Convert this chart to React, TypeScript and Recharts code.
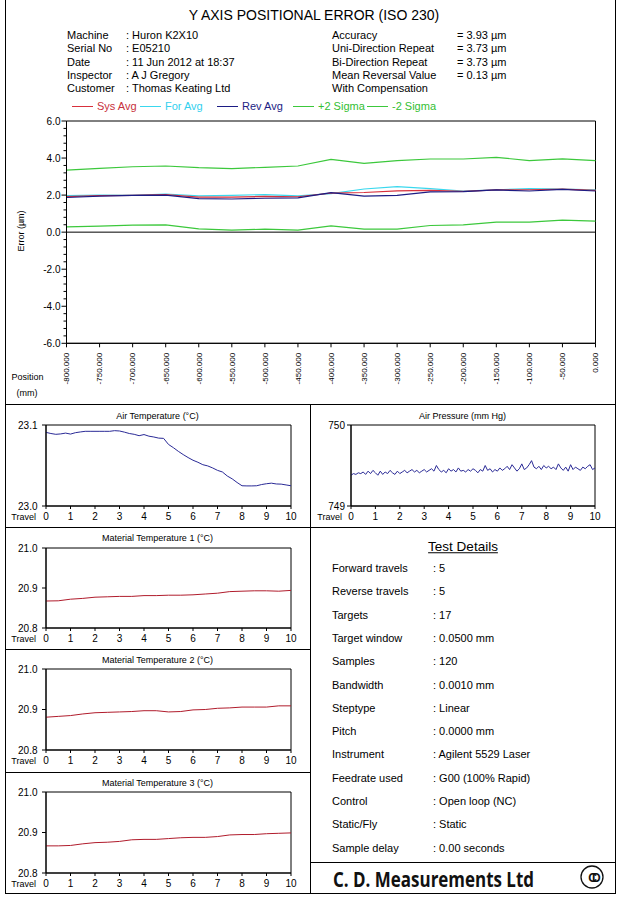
import React from "react";
import { LineChart, Line, XAxis, YAxis, ReferenceLine, ReferenceArea } from "recharts";

const FONT = "'Liberation Sans', Arial, Helvetica, sans-serif";

// ---- header ----
const REPORT_TITLE = "Y AXIS POSITIONAL ERROR (ISO 230)";
const INFO_LEFT_LABELS = ["Machine", "Serial No", "Date", "Inspector", "Customer"];
const INFO_LEFT_VALUES = [": Huron K2X10", ": E05210", ": 11 Jun 2012 at 18:37", ": A J Gregory", ": Thomas Keating Ltd"];
const INFO_RIGHT_LABELS = ["Accuracy", "Uni-Direction Repeat", "Bi-Direction Repeat", "Mean Reversal Value", "With Compensation"];
const INFO_RIGHT_VALUES = ["= 3.93 \u00b5m", "= 3.73 \u00b5m", "= 3.73 \u00b5m", "= 0.13 \u00b5m", ""];

// ---- positional error (µm) per target (mm) ----
const POSITIONS = [-800, -750, -700, -650, -600, -550, -500, -450, -400, -350, -300, -250, -200, -150, -100, -50, 0];
const SYS_AVG = [1.92, 1.97, 1.99, 2.03, 1.89, 1.89, 1.93, 1.91, 2.11, 2.14, 2.23, 2.26, 2.2, 2.28, 2.29, 2.32, 2.25];
const FOR_AVG = [1.97, 2.0, 1.99, 2.06, 1.96, 1.99, 2.03, 1.96, 2.08, 2.33, 2.46, 2.35, 2.21, 2.28, 2.35, 2.33, 2.28];
const REV_AVG = [1.87, 1.94, 1.99, 2.0, 1.81, 1.79, 1.83, 1.85, 2.13, 1.94, 1.99, 2.17, 2.19, 2.28, 2.22, 2.31, 2.22];
const PLUS_2_SIGMA = [3.35, 3.44, 3.53, 3.57, 3.48, 3.43, 3.5, 3.57, 3.93, 3.71, 3.86, 3.95, 3.95, 4.04, 3.86, 3.96, 3.86];
const MINUS_2_SIGMA = [0.29, 0.32, 0.38, 0.39, 0.18, 0.11, 0.16, 0.11, 0.34, 0.16, 0.16, 0.36, 0.39, 0.54, 0.54, 0.65, 0.59];
const MAJOR_ERROR_TICKS = [-6, -4, -2, 0, 2, 4, 6];

const SERIES = [
  { key: "up", name: "+2 Sigma", color: "#3cc83c", text: "#33c033" },
  { key: "lo", name: "-2 Sigma", color: "#3cc83c", text: "#33c033" },
  { key: "fwd", name: "For Avg", color: "#3ad8ee", text: "#33d0ee" },
  { key: "sys", name: "Sys Avg", color: "#d8303c", text: "#c8303c" },
  { key: "rev", name: "Rev Avg", color: "#1c1c84", text: "#1c1c84" },
];
const LEGEND_ORDER = ["sys", "fwd", "rev", "up", "lo"];
const LEGEND_LEFT = [72, 140, 217, 293, 367];

// ---- environment records, travel 0..10 ----
const TRAVEL_TICKS = [0, 1, 2, 3, 4, 5, 6, 7, 8, 9, 10];
const AIR_TEMP = [
  23.0909, 23.0895, 23.0885, 23.089, 23.09, 23.0888, 23.0905, 23.0914, 23.0922, 23.0922,
  23.0922, 23.0922, 23.0922, 23.0922, 23.093, 23.0926, 23.0912, 23.0895, 23.0885, 23.0868,
  23.0882, 23.0862, 23.0852, 23.0838, 23.0835, 23.076, 23.072, 23.0675, 23.0635, 23.0598,
  23.0565, 23.054, 23.051, 23.0495, 23.047, 23.044, 23.042, 23.037, 23.0335, 23.029,
  23.025, 23.0248, 23.0248, 23.025, 23.0265, 23.0275, 23.0282, 23.0272, 23.027, 23.026,
  23.025,
];
const AIR_PRESSURE = [
  749.38, 749.4, 749.39, 749.41, 749.4, 749.42, 749.39, 749.43, 749.4, 749.44,
  749.41, 749.38, 749.43, 749.39, 749.42, 749.4, 749.44, 749.41, 749.39, 749.43,
  749.4, 749.42, 749.44, 749.41, 749.43, 749.45, 749.42, 749.44, 749.41, 749.43,
  749.45, 749.42, 749.44, 749.46, 749.43, 749.5, 749.45, 749.42, 749.44, 749.41,
  749.46, 749.43, 749.45, 749.42, 749.47, 749.43, 749.44, 749.42, 749.45, 749.43,
  749.46, 749.44, 749.41, 749.45, 749.43, 749.5, 749.44, 749.46, 749.42, 749.45,
  749.43, 749.47, 749.44, 749.46, 749.49, 749.45, 749.51, 749.47, 749.43, 749.46,
  749.52, 749.45, 749.47, 749.51, 749.56, 749.48, 749.46, 749.49, 749.45, 749.5,
  749.47, 749.49, 749.46, 749.48, 749.45, 749.52, 749.47, 749.44, 749.48, 749.43,
  749.51, 749.45, 749.48, 749.46, 749.44, 749.48, 749.46, 749.49, 749.51, 749.45,
  749.47,
];
const MATERIAL_TEMP_1 = [20.8675, 20.868, 20.872, 20.874, 20.877, 20.878, 20.879, 20.879, 20.881, 20.881, 20.882, 20.882, 20.883, 20.885, 20.887, 20.891, 20.892, 20.893, 20.893, 20.892, 20.894];
const MATERIAL_TEMP_2 = [20.881, 20.883, 20.885, 20.889, 20.892, 20.893, 20.894, 20.895, 20.897, 20.897, 20.894, 20.895, 20.899, 20.9, 20.903, 20.904, 20.906, 20.906, 20.906, 20.909, 20.909];
const MATERIAL_TEMP_3 = [20.867, 20.867, 20.868, 20.872, 20.875, 20.876, 20.878, 20.882, 20.883, 20.883, 20.885, 20.887, 20.888, 20.888, 20.89, 20.894, 20.895, 20.895, 20.897, 20.898, 20.899];

// ---- test details ----
const DETAIL_LABELS = ["Forward travels", "Reverse travels", "Targets", "Target window", "Samples", "Bandwidth", "Steptype", "Pitch", "Instrument", "Feedrate used", "Control", "Static/Fly", "Sample delay"];
const DETAIL_VALUES = [": 5", ": 5", ": 17", ": 0.0500 mm", ": 120", ": 0.0010 mm", ": Linear", ": 0.0000 mm", ": Agilent 5529 Laser", ": G00 (100% Rapid)", ": Open loop (NC)", ": Static", ": 0.00 seconds"];

const errorRows = POSITIONS.map((pos, i) => ({
  pos,
  sys: SYS_AVG[i],
  fwd: FOR_AVG[i],
  rev: REV_AVG[i],
  up: PLUS_2_SIGMA[i],
  lo: MINUS_2_SIGMA[i],
}));

// minor ticks every 0.4 µm, labels only on the majors
const ERROR_TICKS = Array.from({ length: 31 }, (_, i) => Math.round((-6 + i * 0.4) * 10) / 10);

const toRows = (values: number[], step: number) => values.map((v, i) => ({ t: Math.round(i * step * 100) / 100, v }));

function Txt({ x, y, size = 11, anchor = "start", color = "#000", children, style }: any) {
  const tx = anchor === "middle" ? "-50%" : anchor === "end" ? "-100%" : "0";
  return (
    <div
      style={{
        position: "absolute",
        left: x,
        top: y,
        transform: `translate(${tx}, -50%)`,
        fontSize: size,
        lineHeight: 1,
        whiteSpace: "nowrap",
        color,
        fontFamily: FONT,
        ...style,
      }}
    >
      {children}
    </div>
  );
}

function HLine({ x, y, w }: any) {
  return <div style={{ position: "absolute", left: x, top: y, width: w, height: 1, background: "#000" }} />;
}
function VLine({ x, y, h }: any) {
  return <div style={{ position: "absolute", left: x, top: y, width: 1, height: h, background: "#000" }} />;
}

const ErrorTick = (props: any) => {
  const { x, y, payload } = props;
  const v = payload.value;
  const major = MAJOR_ERROR_TICKS.some((m) => Math.abs(m - v) < 1e-6);
  return (
    <g>
      <line x1={x - (major ? 5 : 3)} x2={x} y1={y} y2={y} stroke="#000" />
      {major && (
        <text x={x - 6} y={y} dy="0.35em" textAnchor="end" fontSize={10} fontFamily={FONT} fill="#000">
          {v.toFixed(1)}
        </text>
      )}
    </g>
  );
};

const PositionTick = (props: any) => {
  const { x, y, payload } = props;
  return (
    <g>
      <line x1={x} x2={x} y1={y} y2={y + 4} stroke="#000" />
      <text
        transform={`translate(${x}, ${y + 9.5}) rotate(-90)`}
        dy="0.35em"
        textAnchor="end"
        fontSize={8}
        fontFamily={FONT}
        fill="#000"
      >
        {payload.value.toFixed(3)}
      </text>
    </g>
  );
};

const TravelTick = (props: any) => {
  const { x, y, payload } = props;
  return (
    <g>
      <line x1={x} x2={x} y1={y} y2={y + 3} stroke="#000" />
      <text x={x} y={y + 10.5} dy="0.35em" textAnchor="middle" fontSize={10} fontFamily={FONT} fill="#000">
        {payload.value}
      </text>
    </g>
  );
};

const ValueTick = (props: any) => {
  const { x, y, payload, digits, gap } = props;
  return (
    <g>
      <line x1={x - 4} x2={x} y1={y} y2={y} stroke="#000" />
      <text x={x - gap} y={y} dy="0.35em" textAnchor="end" fontSize={10} fontFamily={FONT} fill="#000">
        {payload.value.toFixed(digits)}
      </text>
    </g>
  );
};

function ErrorChart() {
  return (
    <div style={{ position: "absolute", left: 0, top: 111 }}>
      <LineChart width={640} height={300} data={errorRows} margin={{ top: 10, right: 44.5, bottom: 0, left: 0 }}>
        <XAxis
          dataKey="pos"
          type="number"
          domain={[-800, 0]}
          ticks={POSITIONS}
          interval={0}
          tick={(p: any) => <PositionTick {...p} />}
          tickSize={0}
          tickMargin={0}
          tickLine={false}
          height={67.7}
          axisLine={{ stroke: "#000" }}
        />
        <YAxis
          type="number"
          domain={[-6, 6]}
          ticks={ERROR_TICKS}
          interval={0}
          tick={(p: any) => <ErrorTick {...p} />}
          tickSize={0}
          tickMargin={0}
          tickLine={false}
          width={66.5}
          axisLine={{ stroke: "#000" }}
          allowDataOverflow
        />
        <ReferenceArea x1={-800} x2={0} y1={-6} y2={6} fill="none" stroke="#000" strokeWidth={1} ifOverflow="visible" />
        <ReferenceLine y={0} stroke="#000" strokeWidth={1} />
        {SERIES.map((s) => (
          <Line
            key={s.key}
            dataKey={s.key}
            name={s.name}
            type="linear"
            stroke={s.color}
            strokeWidth={1.2}
            dot={false}
            isAnimationActive={false}
          />
        ))}
      </LineChart>
    </div>
  );
}

function TravelChart({ left, top, width, height, values, step, domain, yTicks, digits, color, gap }: any) {
  const yW = 40;
  const padTop = 4;
  const padRight = 12;
  const xH = 20;
  return (
    <div style={{ position: "absolute", left: left - yW, top: top - padTop }}>
      <LineChart
        width={width + yW + padRight}
        height={height + padTop + xH}
        data={toRows(values, step)}
        margin={{ top: padTop, right: padRight, bottom: 0, left: 0 }}
      >
        <XAxis
          dataKey="t"
          type="number"
          domain={[0, 10]}
          ticks={TRAVEL_TICKS}
          interval={0}
          tick={(p: any) => <TravelTick {...p} />}
          tickSize={0}
          tickMargin={0}
          tickLine={false}
          height={xH}
          axisLine={{ stroke: "#000" }}
        />
        <YAxis
          type="number"
          domain={domain}
          ticks={yTicks}
          interval={0}
          tick={(p: any) => <ValueTick {...p} digits={digits} gap={gap} />}
          tickSize={0}
          tickMargin={0}
          tickLine={false}
          width={yW}
          axisLine={{ stroke: "#000" }}
          allowDataOverflow
        />
        <ReferenceArea x1={0} x2={10} y1={domain[0]} y2={domain[1]} fill="none" stroke="#000" strokeWidth={1} ifOverflow="visible" />
        <Line dataKey="v" type="linear" stroke={color} strokeWidth={1} dot={false} isAnimationActive={false} />
      </LineChart>
    </div>
  );
}

const PANELS = [
  { title: "Air Temperature (\u00b0C)", cx: 157.5, ty: 416, left: 46, top: 425, width: 245, height: 81, values: AIR_TEMP, step: 0.2, domain: [23.0, 23.1], yTicks: [23.0, 23.1], digits: 1, color: "#2a2a96", gap: 8.5, travelX: 36 },
  { title: "Air Pressure (mm Hg)", cx: 462.5, ty: 416, left: 351, top: 425, width: 244, height: 81, values: AIR_PRESSURE, step: 0.1, domain: [749, 750], yTicks: [749, 750], digits: 0, color: "#2a2a96", gap: 6, travelX: 342 },
  { title: "Material Temperature 1 (\u00b0C)", cx: 157.5, ty: 538, left: 46, top: 548, width: 245, height: 80, values: MATERIAL_TEMP_1, step: 0.5, domain: [20.8, 21.0], yTicks: [20.8, 20.9, 21.0], digits: 1, color: "#b01c2c", gap: 8.5, travelX: 36 },
  { title: "Material Temperature 2 (\u00b0C)", cx: 157.5, ty: 660, left: 46, top: 669, width: 245, height: 81, values: MATERIAL_TEMP_2, step: 0.5, domain: [20.8, 21.0], yTicks: [20.8, 20.9, 21.0], digits: 1, color: "#b01c2c", gap: 8.5, travelX: 36 },
  { title: "Material Temperature 3 (\u00b0C)", cx: 157.5, ty: 783, left: 46, top: 792, width: 245, height: 81, values: MATERIAL_TEMP_3, step: 0.5, domain: [20.8, 21.0], yTicks: [20.8, 20.9, 21.0], digits: 1, color: "#b01c2c", gap: 8.5, travelX: 36 },
];

const ERROR_AXIS_LABEL = "Error (\u00b5m)";

export default function App() {
  return (
    <div style={{ position: "relative", width: 640, height: 917, background: "#fff", fontFamily: FONT, overflow: "hidden" }}>
      <style>{"body{margin:0}"}</style>

      {/* frame */}
      <VLine x={5} y={0} h={894} />
      <VLine x={615} y={0} h={894} />
      <HLine x={5} y={404} w={611} />
      <VLine x={310} y={404} h={490} />
      <HLine x={5} y={527} w={611} />
      <HLine x={5} y={649} w={306} />
      <HLine x={5} y={772} w={306} />
      <HLine x={310} y={862} w={306} />
      <HLine x={5} y={893} w={611} />

      {/* header */}
      <Txt x={314} y={15} size={14} anchor="middle">{REPORT_TITLE}</Txt>
      {INFO_LEFT_LABELS.map((l, i) => (
        <React.Fragment key={l}>
          <Txt x={67} y={35 + i * 13.3}>{l}</Txt>
          <Txt x={126} y={35 + i * 13.3}>{INFO_LEFT_VALUES[i]}</Txt>
        </React.Fragment>
      ))}
      {INFO_RIGHT_LABELS.map((l, i) => (
        <React.Fragment key={l}>
          <Txt x={332} y={35 + i * 13.3}>{l}</Txt>
          <Txt x={457} y={35 + i * 13.3}>{INFO_RIGHT_VALUES[i]}</Txt>
        </React.Fragment>
      ))}

      {/* legend */}
      {LEGEND_ORDER.map((k, i) => {
        const s = SERIES.find((d) => d.key === k)!;
        return (
          <React.Fragment key={k}>
            <div style={{ position: "absolute", left: LEGEND_LEFT[i], top: 106, width: 21, height: 1, background: s.color }} />
            <Txt x={LEGEND_LEFT[i] + 25} y={106} color={s.text}>{s.name}</Txt>
          </React.Fragment>
        );
      })}

      <ErrorChart />
      <Txt x={20.5} y={231} size={9} anchor="middle" style={{ transform: "translate(-50%, -50%) rotate(-90deg)" }}>
        {ERROR_AXIS_LABEL}
      </Txt>
      <Txt x={11.5} y={377} size={9}>Position</Txt>
      <Txt x={16.5} y={393} size={9}>(mm)</Txt>

      {/* environment panels */}
      {PANELS.map((p) => (
        <React.Fragment key={p.title}>
          <Txt x={p.cx} y={p.ty} size={9} anchor="middle">{p.title}</Txt>
          <TravelChart {...p} />
          <Txt x={p.travelX} y={p.top + p.height + 10.5} size={9} anchor="end">Travel</Txt>
        </React.Fragment>
      ))}

      {/* test details */}
      <Txt x={463} y={547} size={13.5} anchor="middle" style={{ textDecoration: "underline" }}>Test Details</Txt>
      {DETAIL_LABELS.map((l, i) => (
        <React.Fragment key={l}>
          <Txt x={332} y={568 + i * 23.3}>{l}</Txt>
          <Txt x={433} y={568 + i * 23.3}>{DETAIL_VALUES[i]}</Txt>
        </React.Fragment>
      ))}

      {/* footer */}
      <svg style={{ position: "absolute", left: 310, top: 862 }} width={305} height={31}>
        <text x={23} y={25} fontSize={21} fontWeight={700} fontFamily="'Open Sans', Lato, sans-serif" textLength={201} lengthAdjust="spacingAndGlyphs" fill="#111">
          C. D. Measurements Ltd
        </text>
        <circle cx={282} cy={15} r={11} fill="none" stroke="#111" strokeWidth={1.3} />
        <text x={282} y={19.5} fontSize={12} fontWeight={700} fontFamily={FONT} textAnchor="middle" letterSpacing={-5} fill="#111">
          CD
        </text>
      </svg>
    </div>
  );
}
